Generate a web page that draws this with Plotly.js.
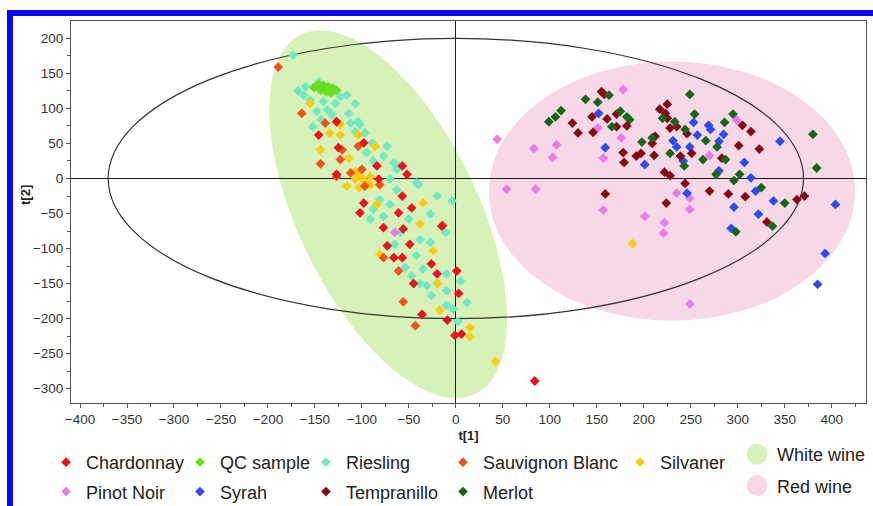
<!DOCTYPE html>
<html>
<head>
<meta charset="utf-8">
<script src="https://cdn.plot.ly/plotly-3.0.1.min.js"></script>
<style>
  html, body { margin: 0; padding: 0; background: #fff; }
  #chart { width: 873px; height: 506px; }
</style>
</head>
<body>
<div id="chart"></div>
<script>
// PCA score plot: t[1] vs t[2] for white and red wine samples

const chardonnayT1 = [-127,-98,-125,-57,-84,-127,-82,-52,-57,-47,-98,-102,-61,-15,-77,-56,-73,-49,-66,-57,-26,-20,1,-45,3,-36,-9,-1,6,84,-146];
const chardonnayT2 = [81,51,44,18,18,6,-1,6,-25,-42,-35,-49,-49,-68,-70,-72,-96,-94,-113,-113,-122,-136,-132,-150,-164,-194,-202,-224,-222,-289,62];

const qcT1 = [-151,-146,-141,-136,-131,-127,-144,-138,-133];
const qcT2 = [130,134,133,131,129,126,126,124,122];

const rieslingT1 = [-173,-160,-146,-162,-155,-141,-128,-116,-123,-107,-137,-148,-132,-114,-112,-104,-107,-97,-89,-73,-95,-77,-66,-63,-88,-152,-143,-40,-20,-4,-27,-11,-38,-27,-59,-65,-42,-35,-47,-38,-20,-81,-88,-91,-77,-70,-50,-63,-70,-10,-54,-26,-10,5,12,-3,-10,2,-31,-102,-61,-42,-168];
const rieslingT2 = [176,131,138,119,112,110,107,119,117,107,98,96,91,93,79,81,67,65,51,46,37,32,22,13,25,74,84,-9,-25,-32,-51,-77,-87,-91,-77,-94,-110,-129,-139,-150,-150,-30,-44,-58,-54,-37,-58,-16,-1,-160,-127,-167,-136,-146,-177,-186,-181,-204,-153,77,18,-6,125];

const sauvignonT1 = [-189,-164,-139,-123,-144,-121,-104,-112,-100,-97,-127,-77,-61,-56,-43,-14,-81];
const sauvignonT2 = [159,93,79,27,21,41,46,8,13,-11,3,-113,-132,-176,-210,-67,-9];

const silvanerT1 = [-155,-123,-134,-123,-144,-104,-86,-114,-107,-116,-107,-102,-97,-91,-103,-91,-35,-38,-81,-24,-19,-84,-17,15,15,42,188];
const silvanerT2 = [107,77,65,62,41,62,46,29,10,-11,-1,3,-4,-9,-13,3,-35,-65,-108,-103,-150,-37,-188,-213,-226,-261,-93];

const pinotNoirT1 = [178,44,83,107,103,151,176,157,54,85,157,201,222,221,235,299,270,249,249,249,-65];
const pinotNoirT2 = [127,56,43,48,30,72,58,29,-15,-15,-45,-54,-63,-78,-21,83,33,-28,-44,-179,-77];

const syrahT1 = [152,159,201,231,235,253,269,271,257,285,280,249,242,280,307,314,319,246,338,296,322,293,345,404,393,385];
const syrahT2 = [93,44,20,54,45,80,76,70,62,63,53,45,25,11,23,1,-18,-21,-32,-41,-51,-71,53,-37,-107,-151];

const tempranilloT1 = [155,158,124,130,145,161,171,171,182,146,178,179,192,197,211,209,212,225,217,223,225,228,222,228,159,224,235,246,305,314,301,323,239,251,283,244,270,290,308,363,371,331];
const tempranilloT2 = [124,120,79,65,88,85,92,74,75,66,37,23,32,36,33,50,60,106,99,93,86,72,9,4,-22,-35,74,64,76,67,47,42,32,36,29,-7,-18,-22,-26,-30,-25,-62];

const merlotT1 = [138,163,151,112,106,99,175,182,185,166,198,209,228,220,249,254,233,244,295,286,266,278,263,243,287,277,302,296,325,350,298,337,380,384];
const merlotT2 = [113,119,109,97,88,81,96,88,84,74,52,58,36,86,120,92,81,70,92,80,54,45,27,18,27,6,6,-3,-13,-35,-76,-68,63,15];

// Group regions (data units)
const hotelling = { cx: 0, cy: 0, rx: 370, ry: 200 };
const whiteRegion = { cx: -72, cy: -51, u: [92.5, -256.6], v: [-86.3, -55.3] };
const redRegion = { cx: 230, cy: -18, rx: 195, ry: 185 };

const FONT = 'Liberation Sans, Arial, Helvetica, sans-serif';

function ellipsePath(e, n) {
  const pts = [];
  for (let i = 0; i < n; i++) {
    const a = 2 * Math.PI * i / n;
    const x = e.cx + Math.cos(a) * e.u[0] + Math.sin(a) * e.v[0];
    const y = e.cy + Math.cos(a) * e.u[1] + Math.sin(a) * e.v[1];
    pts.push((i ? 'L' : 'M') + x.toFixed(2) + ',' + y.toFixed(2));
  }
  return pts.join(' ') + ' Z';
}

function series(name, xs, ys, color, legend) {
  return {
    type: 'scatter', mode: 'markers', name: name, x: xs, y: ys,
    legend: legend, legendgroup: name,
    marker: { symbol: 'diamond', size: 7.5, color: color, line: { width: 0 } },
    hoverinfo: 'x+y+name'
  };
}

function regionKey(name, color) {
  return {
    type: 'scatter', mode: 'markers', name: name, x: [null], y: [null],
    legend: 'legend6', legendgroup: name,
    marker: { symbol: 'circle', size: 16, color: color, line: { width: 5, color: color } }
  };
}

const traces = [
  series('Riesling', rieslingT1, rieslingT2, '#72e8c4', 'legend3'),
  series('QC sample', qcT1, qcT2, '#66e01e', 'legend2'),
  series('Silvaner', silvanerT1, silvanerT2, '#ffcb12', 'legend5'),
  series('Sauvignon Blanc', sauvignonT1, sauvignonT2, '#f0521e', 'legend4'),
  series('Chardonnay', chardonnayT1, chardonnayT2, '#e8161c', 'legend'),
  series('Pinot Noir', pinotNoirT1, pinotNoirT2, '#ec7aec', 'legend'),
  series('Syrah', syrahT1, syrahT2, '#2a4cf0', 'legend2'),
  series('Tempranillo', tempranilloT1, tempranilloT2, '#860a14', 'legend3'),
  series('Merlot', merlotT1, merlotT2, '#17671b', 'legend4'),
  regionKey('White wine', '#d6f2b9'),
  regionKey('Red wine', '#f6d8e7')
];

const axisBase = {
  showgrid: false, zeroline: true, zerolinecolor: '#1a1a1a', zerolinewidth: 1,
  showline: true, mirror: true, linecolor: '#555', linewidth: 1,
  ticks: 'outside', ticklen: 4, tickcolor: '#555', tickwidth: 1,
  dtick: 50, tickfont: { family: FONT, size: 13.5, color: '#333' },
  minor: { ticks: 'outside', dtick: 25, ticklen: 3, tickcolor: '#555', tickwidth: 1 }
};

const legendBase = {
  orientation: 'v', bgcolor: 'rgba(0,0,0,0)', borderwidth: 0,
  font: { family: FONT, size: 18, color: '#222' },
  xanchor: 'left', yanchor: 'top', traceorder: 'grouped', tracegroupgap: 3,
  itemclick: false, itemdoubleclick: false
};

const legendRowY = -0.1073;

const layout = {
  width: 873, height: 506,
  margin: { l: 71, r: 7, t: 21, b: 103, autoexpand: false },
  paper_bgcolor: '#fff', plot_bgcolor: '#fff',
  showlegend: true,
  xaxis: Object.assign({}, axisBase, {
    range: [-409.6, 436.5], tick0: 0, automargin: false,
    title: { text: '<b>t[1]</b>', font: { family: FONT, size: 13, color: '#222' }, standoff: 4 }
  }),
  yaxis: Object.assign({}, axisBase, { range: [-320.4, 224.8], tick0: 0, automargin: false }),
  legend: Object.assign({}, legendBase, { x: -0.0314, y: legendRowY }),
  legend2: Object.assign({}, legendBase, { x: 0.1371, y: legendRowY }),
  legend3: Object.assign({}, legendBase, { x: 0.2956, y: legendRowY }),
  legend4: Object.assign({}, legendBase, { x: 0.4679, y: legendRowY }),
  legend5: Object.assign({}, legendBase, { x: 0.6906, y: legendRowY }),
  legend6: Object.assign({}, legendBase, { x: 0.8377, y: -0.0864, tracegroupgap: 5 }),
  annotations: [{
    text: '<b>t[2]</b>', textangle: -90, xref: 'paper', yref: 'paper',
    x: -0.0579, y: 0.5445, xanchor: 'center', yanchor: 'middle', showarrow: false,
    font: { family: FONT, size: 13, color: '#222' }
  }],
  shapes: [
    { type: 'path', xref: 'x', yref: 'y', layer: 'below', path: ellipsePath(whiteRegion, 120),
      fillcolor: '#d6f2b9', line: { width: 0 } },
    { type: 'circle', xref: 'x', yref: 'y', layer: 'below',
      x0: redRegion.cx - redRegion.rx, x1: redRegion.cx + redRegion.rx,
      y0: redRegion.cy - redRegion.ry, y1: redRegion.cy + redRegion.ry,
      fillcolor: '#f6d8e7', line: { width: 0 } },
    { type: 'circle', xref: 'x', yref: 'y', layer: 'below',
      x0: hotelling.cx - hotelling.rx, x1: hotelling.cx + hotelling.rx,
      y0: hotelling.cy - hotelling.ry, y1: hotelling.cy + hotelling.ry,
      fillcolor: 'rgba(0,0,0,0)', line: { width: 1.2, color: '#333' } },
    // blue frame along the top and left edges of the figure
    { type: 'rect', xref: 'paper', yref: 'paper', layer: 'above',
      x0: -0.0805, x1: 1.02, y0: 1.0131, y1: 1.0288, fillcolor: '#0808f0', line: { width: 0 } },
    { type: 'rect', xref: 'paper', yref: 'paper', layer: 'above',
      x0: -0.0805, x1: -0.0730, y0: -0.29, y1: 1.0288, fillcolor: '#0808f0', line: { width: 0 } }
  ]
};

Plotly.newPlot('chart', traces, layout, { displayModeBar: false, staticPlot: true });
</script>
</body>
</html>
